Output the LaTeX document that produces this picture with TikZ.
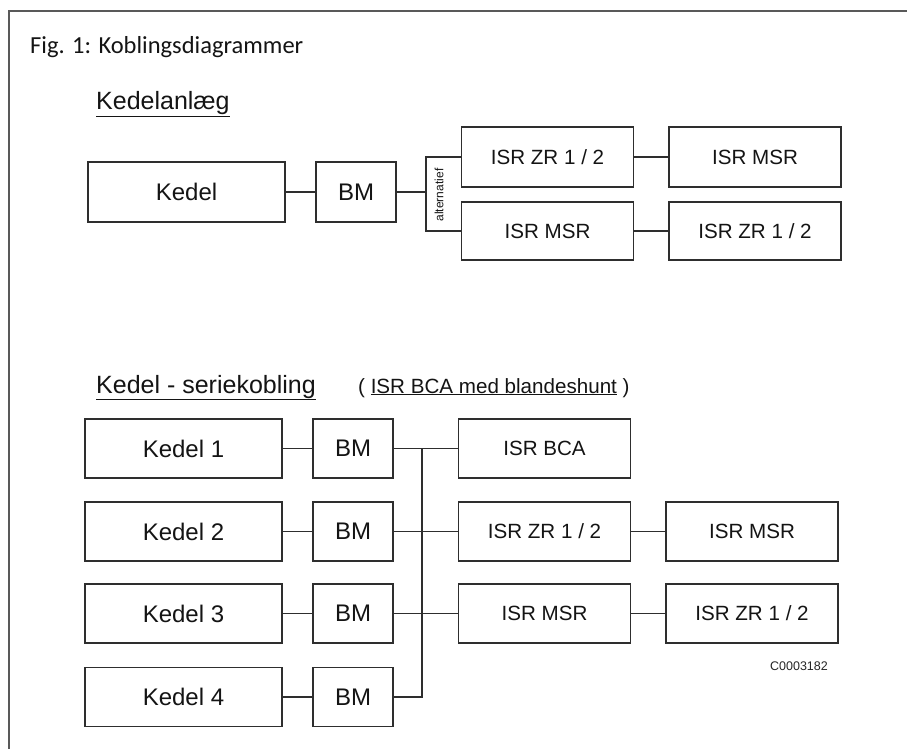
\documentclass[tikz,border=0pt]{standalone}
\usepackage{fontspec}
\setmainfont{Liberation Sans}
\newfontfamily\titlefont{Carlito}
\definecolor{ln}{HTML}{2E2E2E}
\begin{document}
\begin{tikzpicture}[x=1pt,y=-1pt,
  box/.style={draw=ln,line width=1.8pt,inner sep=0pt,align=center,text=black!92,font=\fontsize{24}{28}\selectfont},
  kbox/.style={box,minimum width=197pt,minimum height=59pt},
  bmbox/.style={box,minimum width=80pt,minimum height=59pt},
  isrbox/.style={box,minimum width=172pt,minimum height=59pt,font=\fontsize{20.6}{24}\selectfont},
  wire/.style={draw=ln,line width=1.8pt},
  head/.style={anchor=base west,inner sep=0pt,text=black!92,font=\fontsize{25}{29}\selectfont}]
\useasboundingbox (0,0) rectangle (907,749);
\fill[white] (0,0) rectangle (907,749);
% frame
\draw[draw=black!65,line width=1.6pt] (907,11) -- (9,11) -- (9,749);
% title and headings
\node[anchor=base west,inner sep=0pt,text=black!92,font=\titlefont\fontsize{24.5}{30}\selectfont] (title) at (30,54) {Fig. 1: Koblingsdiagrammer};
\node[head] (h1) at (96,110) {\underline{Kedelanlæg}};
\node[head] (h2) at (96,393) {\underline{Kedel - seriekobling}};
\node[head,font=\fontsize{20.6}{24}\selectfont] (h3) at (358,393) {(\ \underline{ISR BCA med blandeshunt}\ )};
% top section
\node[kbox,minimum height=60pt] (kedel) at (186.5,192) {Kedel};
\node[bmbox,minimum height=60pt] (bm0) at (356,192) {BM};
\node[isrbox,minimum height=60pt] (zrA) at (547.5,157) {ISR ZR 1 / 2};
\node[isrbox,minimum height=60pt] (msrA) at (755,157) {ISR MSR};
\node[isrbox,minimum height=58pt] (msrB) at (547.5,231) {ISR MSR};
\node[isrbox,minimum height=58pt] (zrB) at (755,231) {ISR ZR 1 / 2};
\coordinate (altT) at (426,157);
\coordinate (altB) at (426,231);
\node[rotate=90,inner sep=0pt,text=black!92,font=\fontsize{12}{14}\selectfont] (alt) at (439,195) {alternatief};
\draw[wire] (kedel.east) -- (bm0.west);
\draw[wire] (bm0.east) -- (bm0.east -| altT);
\draw[wire] (zrA.west) -- (altT) -- (altB) -- (msrB.west);
\draw[wire] (zrA.east) -- (msrA.west);
\draw[wire] (msrB.east) -- (zrB.west);
% bottom section
\node[kbox] (k1) at (183.5,448.5) {Kedel 1};
\node[kbox] (k2) at (183.5,531.5) {Kedel 2};
\node[kbox] (k3) at (183.5,613.5) {Kedel 3};
\node[kbox] (k4) at (183.5,697) {Kedel 4};
\node[bmbox] (bm1) at (353,448.5) {BM};
\node[bmbox] (bm2) at (353,531.5) {BM};
\node[bmbox] (bm3) at (353,613.5) {BM};
\node[bmbox] (bm4) at (353,697) {BM};
\node[isrbox] (bca) at (544.5,448.5) {ISR BCA};
\node[isrbox] (zr2) at (544.5,531.5) {ISR ZR 1 / 2};
\node[isrbox] (msr3) at (544.5,613.5) {ISR MSR};
\node[isrbox] (msr2) at (752,531.5) {ISR MSR};
\node[isrbox] (zr3) at (752,613.5) {ISR ZR 1 / 2};
\coordinate (busT) at (422,448.5);
\coordinate (busB) at (422,697);
\foreach \i in {1,2,3,4}{\draw[wire] (k\i.east) -- (bm\i.west);}
\draw[wire] (bm1.east) -- (bca.west);
\draw[wire] (busT) -- (busB) -- (bm4.east);
\draw[wire] (bm2.east) -- (zr2.west);
\draw[wire] (bm3.east) -- (msr3.west);
\draw[wire] (zr2.east) -- (msr2.west);
\draw[wire] (msr3.east) -- (zr3.west);
\node[inner sep=0pt,text=black!85,font=\fontsize{12.5}{15}\selectfont] (code) at (799,666) {C0003182};
\end{tikzpicture}
\end{document}
